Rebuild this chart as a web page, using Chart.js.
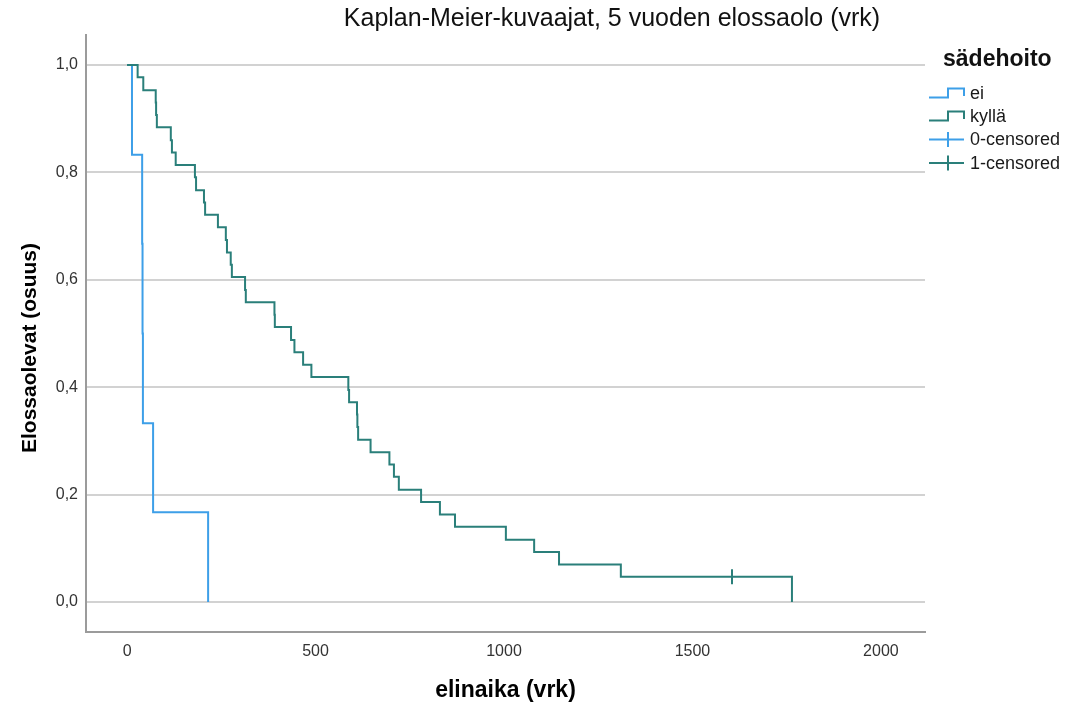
<!DOCTYPE html>
<html>
<head>
<meta charset="utf-8">
<script src="https://cdn.jsdelivr.net/npm/chart.js@4.4.1/dist/chart.umd.min.js"></script>
<style>
  html, body { margin: 0; padding: 0; background: #ffffff; }
  canvas { display: block; }
</style>
</head>
<body>
<canvas id="km" width="1067" height="706"></canvas>
<script>
// Texts
const chartTitle = 'Kaplan-Meier-kuvaajat, 5 vuoden elossaolo (vrk)';
const xTitle = 'elinaika (vrk)';
const yTitle = 'Elossaolevat (osuus)';
const legendTitle = 'sädehoito';
const groupNames = ['ei', 'kyllä'];
const censoredNames = ['0-censored', '1-censored'];

// Axis ticks
const xTicks = [0, 500, 1000, 1500, 2000];
const yTicks = [0, 0.2, 0.4, 0.6, 0.8, 1.0];

// Group "ei": survival steps (days, proportion surviving)
const eiDays     = [0, 13, 40, 41, 42, 69, 215];
const eiSurvival = [1.000, 0.833, 0.667, 0.500, 0.333, 0.167, 0.000];
const eiCensoredDays = [];
const eiCensoredSurvival = [];

// Group "kyllä": survival steps (days, proportion surviving)
const kyllaDays = [
  0, 28, 43, 76, 77, 79, 116, 119, 129, 180, 183, 204, 207, 241, 262, 265,
  275, 278, 313, 315, 391, 392, 435, 444, 467, 489, 587, 589, 610, 611, 613,
  646, 696, 708, 721, 780, 830, 870, 1005, 1080, 1146, 1310, 1764
];
const kyllaSurvival = [
  1.000, 0.977, 0.953, 0.930, 0.907, 0.884, 0.860, 0.837, 0.814, 0.791, 0.767,
  0.744, 0.721, 0.698, 0.674, 0.651, 0.628, 0.605, 0.581, 0.558, 0.535, 0.512,
  0.488, 0.465, 0.442, 0.419, 0.395, 0.372, 0.349, 0.326, 0.302, 0.279, 0.256,
  0.233, 0.209, 0.186, 0.163, 0.140, 0.116, 0.093, 0.070, 0.047, 0.000
];
const kyllaCensoredDays = [1605];
const kyllaCensoredSurvival = [0.047];

const FONT = "'Liberation Sans', Arial, Helvetica, sans-serif";
const BLUE = '#3d9fe8';
const TEAL = '#2a7f7a';

const toPoints = (xs, ys) => xs.map((x, i) => ({ x: x, y: ys[i] }));

// Title, y-axis title and the legend block at the right
const decorations = {
  id: 'decorations',
  afterDraw(chart) {
    const ctx = chart.ctx;
    ctx.save();

    // main title
    ctx.fillStyle = '#111111';
    ctx.font = `25px ${FONT}`;
    ctx.textAlign = 'center';
    ctx.textBaseline = 'middle';
    ctx.fillText(chartTitle, 612, 19);

    // y-axis title
    ctx.save();
    ctx.translate(30, 348);
    ctx.rotate(-Math.PI / 2);
    ctx.font = `bold 21px ${FONT}`;
    ctx.fillStyle = '#000000';
    ctx.fillText(yTitle, 0, 0);
    ctx.restore();

    // legend title
    ctx.textAlign = 'left';
    ctx.font = `bold 23px ${FONT}`;
    ctx.fillStyle = '#111111';
    ctx.fillText(legendTitle, 943, 60);

    // legend rows
    const rows = [
      { text: groupNames[0], color: BLUE, kind: 'step', y: 93 },
      { text: groupNames[1], color: TEAL, kind: 'step', y: 116 },
      { text: censoredNames[0], color: BLUE, kind: 'cross', y: 139.5 },
      { text: censoredNames[1], color: TEAL, kind: 'cross', y: 163 }
    ];
    ctx.font = `18px ${FONT}`;
    rows.forEach(r => {
      ctx.strokeStyle = r.color;
      ctx.lineWidth = 2;
      ctx.beginPath();
      if (r.kind === 'step') {
        ctx.moveTo(929, r.y + 4.5);
        ctx.lineTo(948, r.y + 4.5);
        ctx.lineTo(948, r.y - 4.5);
        ctx.lineTo(964, r.y - 4.5);
        ctx.lineTo(964, r.y + 3);
      } else {
        ctx.moveTo(929, r.y);
        ctx.lineTo(964, r.y);
        ctx.moveTo(948, r.y - 7.5);
        ctx.lineTo(948, r.y + 7.5);
      }
      ctx.stroke();
      ctx.fillStyle = '#1a1a1a';
      ctx.fillText(r.text, 970, r.y + 1);
    });

    ctx.restore();
  }
};

new Chart(document.getElementById('km'), {
  type: 'line',
  data: {
    datasets: [
      {
        label: censoredNames[1],
        data: toPoints(kyllaCensoredDays, kyllaCensoredSurvival),
        showLine: false,
        pointStyle: 'line',
        pointRotation: 90,
        pointRadius: 7.5,
        pointBorderWidth: 2,
        pointBorderColor: TEAL,
        borderColor: TEAL,
        order: 0
      },
      {
        label: groupNames[1],
        data: toPoints(kyllaDays, kyllaSurvival),
        stepped: 'before',
        borderColor: TEAL,
        borderWidth: 2,
        pointRadius: 0,
        fill: false,
        order: 1
      },
      {
        label: censoredNames[0],
        data: toPoints(eiCensoredDays, eiCensoredSurvival),
        showLine: false,
        pointStyle: 'line',
        pointRotation: 90,
        pointRadius: 7.5,
        pointBorderWidth: 2,
        pointBorderColor: BLUE,
        borderColor: BLUE,
        order: 2
      },
      {
        label: groupNames[0],
        data: toPoints(eiDays, eiSurvival),
        stepped: 'before',
        borderColor: BLUE,
        borderWidth: 2,
        pointRadius: 0,
        fill: false,
        order: 3
      }
    ]
  },
  options: {
    responsive: false,
    animation: false,
    events: [],
    layout: { padding: { left: 0, right: 142, top: 35, bottom: 0 } },
    plugins: {
      legend: { display: false },
      title: { display: false },
      tooltip: { enabled: false }
    },
    scales: {
      x: {
        type: 'linear',
        min: -109,
        max: 2117,
        afterBuildTicks: s => { s.ticks = xTicks.map(v => ({ value: v })); },
        afterFit: s => { s.height = 74; },
        grid: { display: false, drawTicks: false },
        border: { display: true, color: '#9b9b9b', width: 2 },
        ticks: {
          padding: 10,
          color: '#333333',
          font: { family: FONT, size: 16 },
          maxRotation: 0,
          callback: v => String(v)
        },
        title: {
          display: true,
          text: xTitle,
          color: '#000000',
          font: { family: FONT, size: 23, weight: 'bold' },
          padding: { top: 0, bottom: 2 }
        }
      },
      y: {
        type: 'linear',
        min: -0.0559,
        max: 1.0559,
        afterBuildTicks: s => { s.ticks = yTicks.map(v => ({ value: v })); },
        afterFit: s => { s.width = 86; },
        grid: { color: '#d2d2d2', lineWidth: 2, drawTicks: false },
        border: { display: true, color: '#9b9b9b', width: 2 },
        ticks: {
          padding: 8,
          color: '#333333',
          font: { family: FONT, size: 16 },
          callback: v => v.toFixed(1).replace('.', ',')
        }
      }
    }
  },
  plugins: [decorations]
});
</script>
</body>
</html>
